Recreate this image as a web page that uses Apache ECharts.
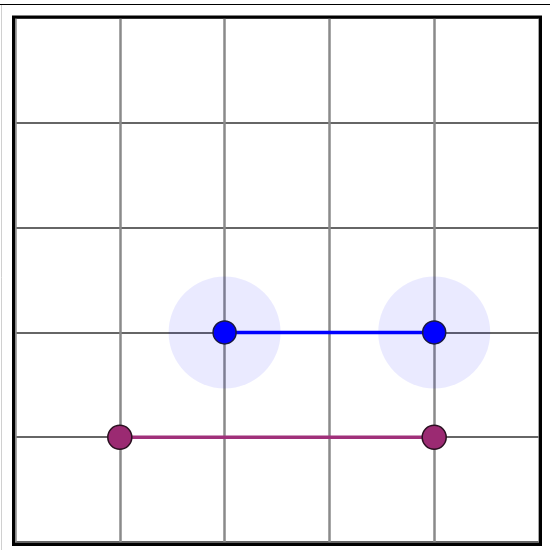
<!DOCTYPE html>
<html>
<head>
<meta charset="utf-8">
<script src="https://cdn.jsdelivr.net/npm/echarts@6/dist/echarts.min.js"></script>
<style>html,body{margin:0;padding:0;background:#fff;}#c{width:550px;height:550px;}</style>
</head>
<body>
<div id="c"></div>
<script>
var blueX = [2, 4];
var blueY = [2, 2];
var purpleX = [1, 4];
var purpleY = [1, 1];
var axisMin = 0, axisMax = 5, axisStep = 1;

function pts(xs, ys) { return xs.map(function (x, i) { return [x, ys[i]]; }); }

var chart = echarts.init(document.getElementById('c'), null, {renderer: 'canvas'});
chart.setOption({
  animation: false,
  backgroundColor: '#fff',
  grid: {left: 15, top: 18, width: 524, height: 524, show: false},
  xAxis: {type: 'value', min: axisMin, max: axisMax, interval: axisStep,
    axisLine: {show: false}, axisTick: {show: false}, axisLabel: {show: false},
    splitLine: {show: true, lineStyle: {color: '#8a8a8a', width: 2.5}}},
  yAxis: {type: 'value', min: axisMin, max: axisMax, interval: axisStep,
    axisLine: {show: false}, axisTick: {show: false}, axisLabel: {show: false},
    splitLine: {show: true, lineStyle: {color: '#333', width: 1.5}}},
  graphic: [
    {type: 'line', shape: {x1: 0, y1: 4.5, x2: 550, y2: 4.5}, style: {stroke: '#000', lineWidth: 1}, z: 100},
    {type: 'line', shape: {x1: 1.5, y1: 5, x2: 1.5, y2: 550}, style: {stroke: '#d0d0d0', lineWidth: 1}, z: 100},
    {type: 'rect', shape: {x: 13.5, y: 17, width: 527, height: 527.5},
      style: {fill: null, stroke: '#000', lineWidth: 3}, z: 100}
  ],
  series: [
    {type: 'scatter', data: pts(blueX, blueY), symbolSize: 112, z: 1,
      itemStyle: {color: 'rgba(0,0,255,0.1)'}, silent: true},
    {type: 'line', data: pts(blueX, blueY), z: 5,
      lineStyle: {color: '#0000ff', width: 3.5},
      symbol: 'circle', symbolSize: 23,
      itemStyle: {color: '#0000ff', borderColor: '#1a1a40', borderWidth: 1.5}},
    {type: 'line', data: pts(purpleX, purpleY), z: 5,
      lineStyle: {color: '#a0307a', width: 3.5},
      symbol: 'circle', symbolSize: 24,
      itemStyle: {color: '#9b2a72', borderColor: '#2a1020', borderWidth: 1.5}}
  ]
});
</script>
</body>
</html>
